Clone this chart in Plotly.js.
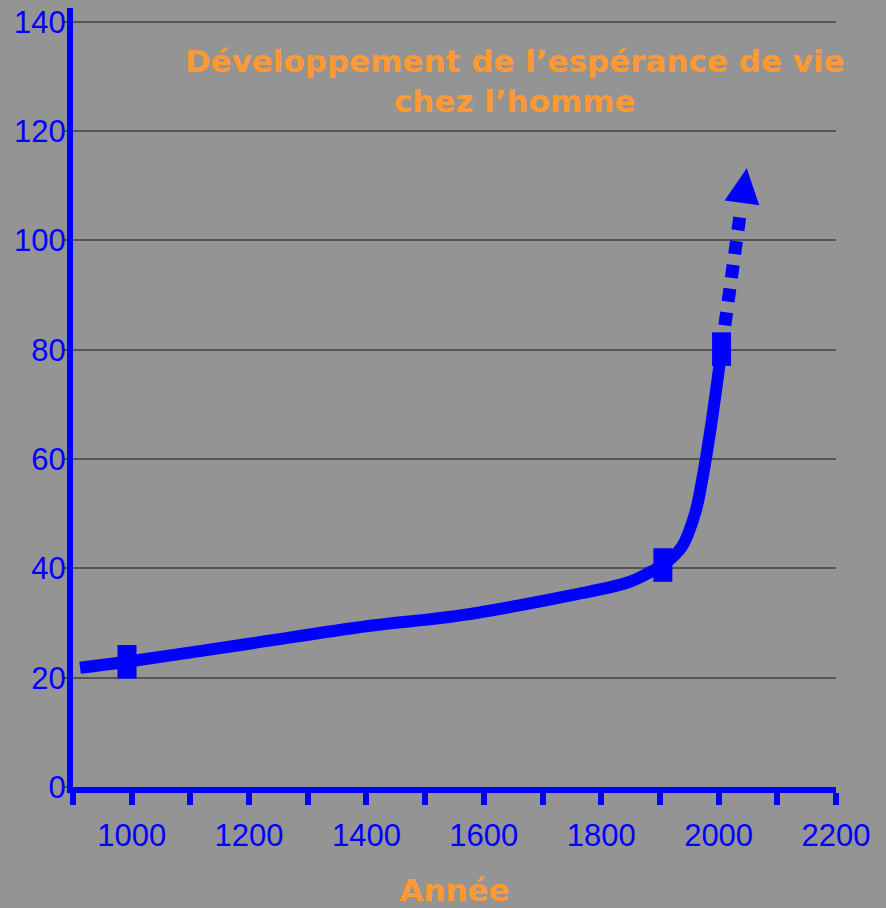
<!DOCTYPE html>
<html>
<head>
<meta charset="utf-8">
<script src="https://cdn.plot.ly/plotly-3.0.1.min.js"></script>
<style>body{margin:0;background:#949494}</style>
</head>
<body>
<div id="plot" style="width:886px;height:908px"></div>
<script>
// courbe principale
var annees = [912, 992, 1200, 1400, 1560, 1750, 1845, 1885, 1905, 1937, 1960, 1972, 1986, 1998, 2005];
var esperance = [21.8, 22.9, 26.2, 29.4, 31.4, 35.1, 37.4, 39.4, 40.6, 43.9, 50.1, 56.2, 65.3, 74.4, 80.1];

// points marqués
var reperesAnnees = [992, 1905, 2005];
var reperesValeurs = [22.9, 40.6, 80.1];

// projection en pointillé + pointe de flèche
var projAnnees = [2005, 2037];
var projValeurs = [80.1, 105];
var flecheAnnee = [2048];
var flecheValeur = [113.2];

var ticksAnnees = [900, 1000, 1100, 1200, 1300, 1400, 1500, 1600, 1700, 1800, 1900, 2000, 2100, 2200];
var ticksTexte = ['', '1000', '', '1200', '', '1400', '', '1600', '', '1800', '', '2000', '', '2200'];

var bleu = '#0000FF';
var orange = '#FF9933';

var courbe = {
  x: annees, y: esperance,
  mode: 'lines',
  line: {color: bleu, width: 12, shape: 'spline', smoothing: 1},
  hoverinfo: 'skip'
};

var projection = {
  x: projAnnees, y: projValeurs,
  mode: 'lines',
  line: {color: bleu, width: 13, dash: '13px,11px'},
  hoverinfo: 'skip'
};

var fleche = {
  x: flecheAnnee, y: flecheValeur,
  mode: 'markers',
  marker: {symbol: 'arrow-up', size: 35, angle: 8, color: bleu, line: {width: 0}},
  hoverinfo: 'skip'
};

var reperes = {
  x: reperesAnnees, y: reperesValeurs,
  mode: 'markers',
  marker: {symbol: 'line-ns', size: 24, color: bleu, line: {color: bleu, width: 19}},
  hoverinfo: 'skip'
};

var layout = {
  width: 886, height: 908,
  showlegend: false,
  paper_bgcolor: '#949494',
  plot_bgcolor: '#949494',
  margin: {l: 73, r: 50, t: 8, b: 121, autoexpand: false},
  title: {
    text: 'Développement de l’espérance de vie<br>chez l’homme',
    font: {family: 'DejaVu Sans', size: 31, color: orange, weight: 'bold'},
    xref: 'container', x: 0.581, xanchor: 'center',
    yref: 'container', y: 0.921, yanchor: 'top'
  },
  xaxis: {
    range: [900, 2200],
    tickmode: 'array', tickvals: ticksAnnees, ticktext: ticksTexte,
    ticks: 'outside', ticklen: 12, tickwidth: 6, tickcolor: bleu,
    showline: true, linecolor: bleu, linewidth: 6,
    showgrid: false, zeroline: false,
    tickfont: {family: 'Liberation Sans, Arial, sans-serif', size: 31, color: bleu},
    ticklabelstandoff: 4,
    title: {text: 'Année', font: {family: 'DejaVu Sans', size: 31, color: orange, weight: 'bold'}, standoff: 34}
  },
  yaxis: {
    range: [0, 142.5],
    dtick: 20,
    ticks: 'outside', ticklen: 4, tickwidth: 2, tickcolor: '#555555',
    showline: true, linecolor: bleu, linewidth: 6,
    showgrid: true, gridcolor: '#555555', gridwidth: 2,
    zeroline: false,
    tickfont: {family: 'Liberation Sans, Arial, sans-serif', size: 31, color: bleu},
    ticklabelstandoff: -9
  }
};

Plotly.newPlot('plot', [courbe, projection, fleche, reperes], layout, {staticPlot: true});
</script>
</body>
</html>
